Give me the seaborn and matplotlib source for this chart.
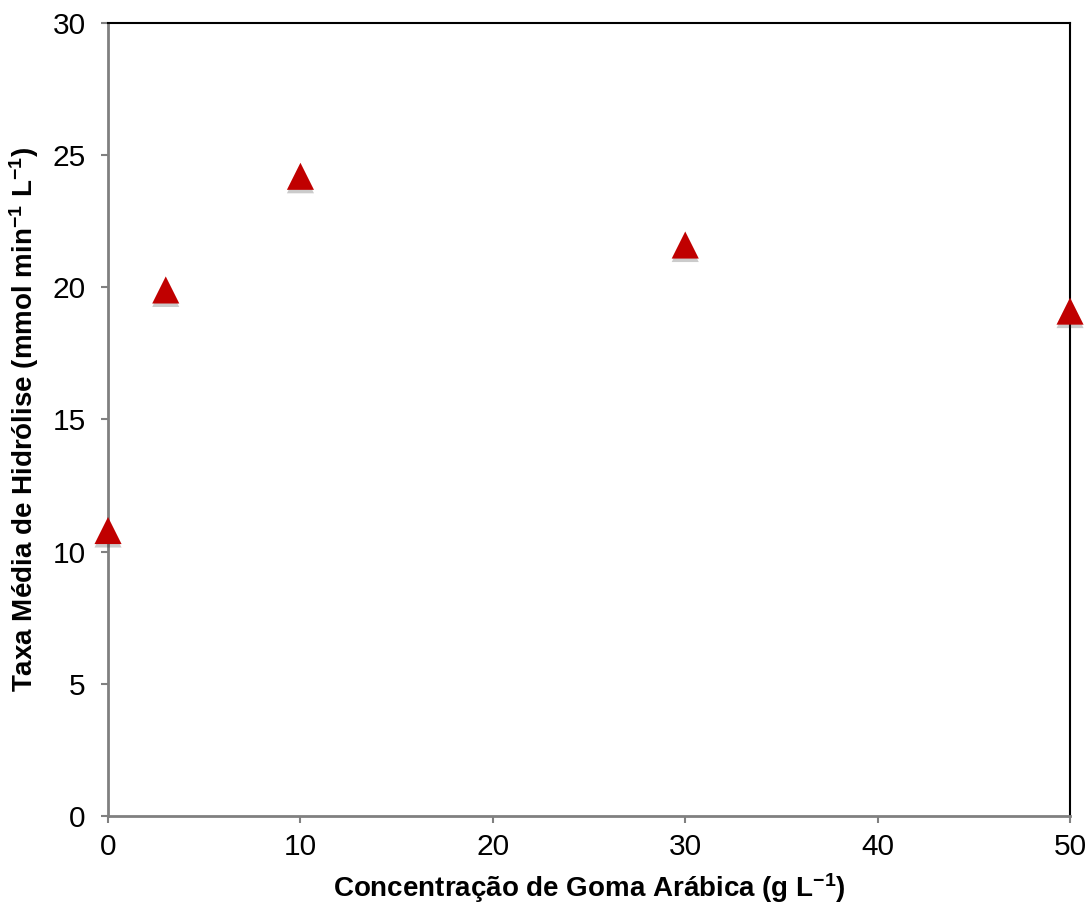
import matplotlib
matplotlib.use("Agg")
import matplotlib.pyplot as plt
import matplotlib.patheffects as pe
import seaborn as sns
import pandas as pd

# Gum arabic concentration (g/L) and mean hydrolysis rate (mmol/min/L)
concentracao = [0, 3, 10, 30, 50]
taxa = [10.8, 19.9, 24.2, 21.6, 19.1]

x_ticks = [0, 10, 20, 30, 40, 50]
y_ticks = [0, 5, 10, 15, 20, 25, 30]

df = pd.DataFrame({"conc": concentracao, "taxa": taxa})

sns.set_style("white")
plt.rcParams["font.family"] = ["Liberation Sans", "DejaVu Sans"]
plt.rcParams["mathtext.fontset"] = "custom"
plt.rcParams["mathtext.rm"] = "Liberation Sans:bold"
plt.rcParams["mathtext.bf"] = "Liberation Sans:bold"
plt.rcParams["mathtext.default"] = "bf"
plt.rcParams["text.color"] = "black"
plt.rcParams["axes.labelcolor"] = "black"
plt.rcParams["xtick.color"] = "black"
plt.rcParams["ytick.color"] = "black"

fig = plt.figure(figsize=(10.89, 9.08), dpi=100)
ax = fig.add_axes([0.0992, 0.1013, 0.8834, 0.8734])

sns.scatterplot(data=df, x="conc", y="taxa", marker="^", s=19.5 ** 2,
                color="#C00000", edgecolor="none", ax=ax, clip_on=False, zorder=5)
for coll in ax.collections:
    coll.set_path_effects([
        pe.SimplePatchShadow(offset=(0, -2.5), shadow_rgbFace="#303030", alpha=0.25),
        pe.Normal(),
    ])

ax.set_xlim(0, 50)
ax.set_ylim(0, 30)
ax.set_xticks(x_ticks)
ax.set_yticks(y_ticks)
ax.tick_params(axis="both", labelsize=21.5, direction="out", length=5, width=1.5,
               color="#808080", labelcolor="black", bottom=True, left=True)
ax.tick_params(axis="x", pad=7.5)
ax.tick_params(axis="y", pad=11)

for side in ("left", "bottom"):
    ax.spines[side].set_color("#808080")
    ax.spines[side].set_linewidth(2)
for side in ("top", "right"):
    ax.spines[side].set_color("black")
    ax.spines[side].set_linewidth(1.5)

ax.set_xlabel(r"Concentração de Goma Arábica (g L$^{-1}$)",
              fontsize=20, fontweight="bold", labelpad=7)
ax.set_ylabel(r"Taxa Média de Hidrólise (mmol min$^{-1}$ L$^{-1}$)",
              fontsize=20, fontweight="bold", labelpad=8)

fig.savefig("out.png", dpi=100)
